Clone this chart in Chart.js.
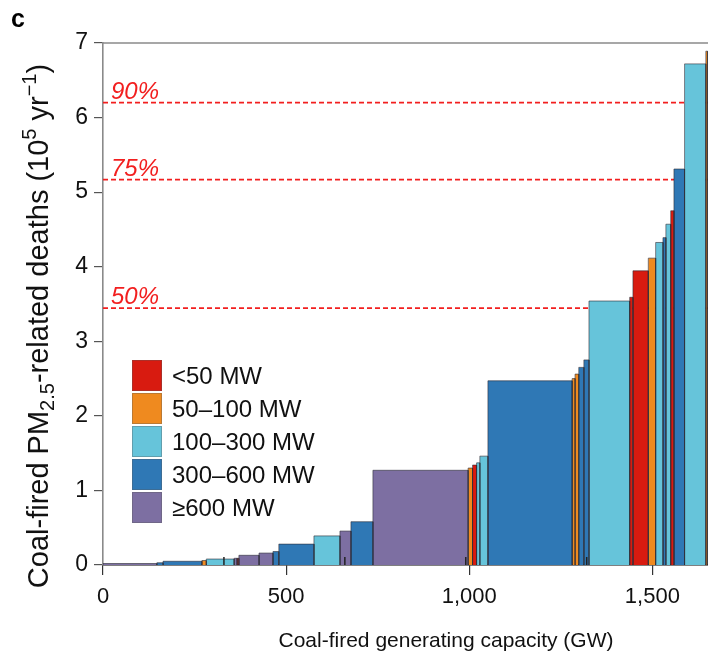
<!DOCTYPE html>
<html><head><meta charset="utf-8">
<script src="https://cdn.jsdelivr.net/npm/chart.js@4/dist/chart.umd.min.js"></script>
<style>
html,body{margin:0;padding:0;background:#fff;overflow:hidden}
#wrap{position:relative;width:708px;height:660px}
#legend{position:absolute;left:132px;top:359px;font-family:'Liberation Sans',Arial,sans-serif;font-size:24px;color:#111}
.item{display:flex;align-items:center;height:33px}
.sw{width:30px;height:31px;margin-right:10px;box-sizing:border-box;border:1px solid rgba(90,90,90,0.35)}
</style></head>
<body><div id="wrap"><canvas id="c" width="708" height="660"></canvas><div id="legend"></div></div>
<script>
// ---- data ----
const sizeClasses = ['<50 MW', '50–100 MW', '100–300 MW', '300–600 MW', '≥600 MW'];
const classColors = ['#d81b10', '#ef8a1f', '#66c4da', '#2f78b5', '#7d6fa2'];
// capacity (GW) of each group, in plotted order
const capacityGW = [147, 17, 106, 12, 76, 8, 5, 55, 38, 16, 96, 71, 30, 60, 260, 12, 11, 9, 22, 230, 8, 10, 14, 14, 111, 9, 42, 20, 20, 8, 13, 9, 29, 58, 5];
// cumulative PM2.5-related deaths (10^5 per year)
const cumulativeDeaths = [0.02, 0.03, 0.05, 0.06, 0.08, 0.09, 0.09, 0.13, 0.16, 0.18, 0.28, 0.39, 0.455, 0.58, 1.27, 1.30, 1.34, 1.37, 1.46, 2.47, 2.50, 2.56, 2.65, 2.75, 3.54, 3.59, 3.945, 4.115, 4.325, 4.39, 4.57, 4.75, 5.31, 6.72, 6.89];
// size class index of each group
const sizeClassIndex = [4, 3, 3, 1, 2, 4, 0, 4, 4, 3, 3, 2, 4, 3, 4, 1, 0, 2, 2, 3, 1, 1, 3, 3, 2, 0, 0, 1, 2, 3, 2, 0, 3, 2, 1];
const shareLevels = [0.5, 0.75, 0.9];
const shareLabels = ['50%', '75%', '90%'];
const capacityMarks = [0.2, 0.4, 0.6, 0.8];
const xTickValues = [0, 500, 1000, 1500];
const yTickValues = [0, 1, 2, 3, 4, 5, 6, 7];

// ---- build datasets ----
const FONT = "'Liberation Sans', Arial, Helvetica, sans-serif";
const totalDeaths = cumulativeDeaths[cumulativeDeaths.length - 1];
const totalCapacity = capacityGW.reduce((a, b) => a + b, 0);
const datasets = [];
let start = 0;
capacityGW.forEach((w, i) => {
  const end = start + w, h = cumulativeDeaths[i];
  datasets.push({
    type: 'line',
    data: [{x: start, y: 0}, {x: start, y: h}, {x: end, y: h}, {x: end, y: 0}],
    backgroundColor: classColors[sizeClassIndex[i]],
    borderColor: 'rgba(45,45,55,0.6)',
    borderWidth: 1,
    fill: 'origin',
    pointRadius: 0,
    tension: 0,
    order: 0
  });
  start = end;
});
shareLevels.forEach(f => {
  datasets.push({
    type: 'line',
    data: [{x: 0, y: f * totalDeaths}, {x: 1700, y: f * totalDeaths}],
    borderColor: '#f21f1f',
    borderWidth: 1.6,
    borderDash: [5, 3],
    fill: false,
    pointRadius: 0,
    order: 5
  });
});

// ---- legend (HTML) ----
const lg = document.getElementById('legend');
sizeClasses.forEach((s, i) => {
  const d = document.createElement('div'); d.className = 'item';
  const sw = document.createElement('div'); sw.className = 'sw'; sw.style.background = classColors[i];
  const t = document.createElement('span'); t.textContent = s;
  d.appendChild(sw); d.appendChild(t); lg.appendChild(d);
});

// ---- plugins ----
const decor = {
  id: 'decor',
  afterDatasetsDraw(chart) {
    const {ctx, chartArea: ca, scales: {x, y}} = chart;
    ctx.save();
    // top frame line
    ctx.strokeStyle = '#8a8a8a'; ctx.lineWidth = 1.5;
    ctx.beginPath(); ctx.moveTo(ca.left, ca.top); ctx.lineTo(ca.right, ca.top); ctx.stroke();
    // capacity quintile marks
    ctx.strokeStyle = '#222'; ctx.lineWidth = 1.5;
    capacityMarks.forEach(f => {
      const px = x.getPixelForValue(f * totalCapacity);
      ctx.beginPath(); ctx.moveTo(px, ca.bottom); ctx.lineTo(px, ca.bottom - 8); ctx.stroke();
    });
    // share labels
    ctx.fillStyle = '#f21f1f';
    ctx.font = 'italic 24px ' + FONT;
    ctx.textAlign = 'left'; ctx.textBaseline = 'alphabetic';
    shareLevels.forEach((f, i) => {
      ctx.fillText(shareLabels[i], x.getPixelForValue(0) + 8, y.getPixelForValue(f * totalDeaths) - 4);
    });
    ctx.restore();
  },
  afterDraw(chart) {
    const {ctx} = chart;
    ctx.save();
    // panel letter
    ctx.fillStyle = '#000'; ctx.font = 'bold 25px ' + FONT;
    ctx.textAlign = 'left'; ctx.textBaseline = 'alphabetic';
    ctx.fillText('c', 11, 27);
    // x title
    ctx.fillStyle = '#111'; ctx.font = '21px ' + FONT; ctx.textAlign = 'center';
    ctx.fillText('Coal-fired generating capacity (GW)', 446, 647);
    // y title with sub/superscripts
    const segs = [
      {t: 'Coal-fired PM'}, {t: '2.5', k: 'sub'}, {t: '-related deaths (10'},
      {t: '5', k: 'sup'}, {t: ' yr'}, {t: '−1', k: 'sup'}, {t: ')'}
    ];
    const fs = 29, ss = 20;
    let total = 0;
    segs.forEach(s => { ctx.font = (s.k ? ss : fs) + 'px ' + FONT; s.w = ctx.measureText(s.t).width; total += s.w; });
    ctx.translate(48, 326);
    ctx.rotate(-Math.PI / 2);
    ctx.textAlign = 'left';
    let cx = -total / 2;
    segs.forEach(s => {
      ctx.font = (s.k ? ss : fs) + 'px ' + FONT;
      const dy = s.k === 'sub' ? 6 : s.k === 'sup' ? -12 : 0;
      ctx.fillText(s.t, cx, dy);
      cx += s.w;
    });
    ctx.restore();
  }
};

new Chart(document.getElementById('c'), {
  type: 'line',
  data: {datasets},
  options: {
    responsive: false,
    animation: false,
    events: [],
    layout: {padding: {top: 43, left: 0, right: 0, bottom: 0}},
    plugins: {legend: {display: false}, tooltip: {enabled: false}},
    scales: {
      x: {
        type: 'linear', min: 0, max: 1652,
        afterBuildTicks: s => { s.ticks = xTickValues.map(v => ({value: v})); },
        afterFit: s => { s.height = 95; },
        grid: {display: true, drawOnChartArea: false, drawTicks: true, tickLength: 10, color: '#333', lineWidth: 1.2},
        border: {display: true, color: '#000', width: 1.6},
        ticks: {font: {family: FONT, size: 22}, color: '#111', padding: 9,
          callback: v => v.toLocaleString('en-US')}
      },
      y: {
        type: 'linear', min: 0, max: 7,
        afterBuildTicks: s => { s.ticks = yTickValues.map(v => ({value: v})); },
        afterFit: s => { s.width = 103; },
        grid: {display: true, drawOnChartArea: false, drawTicks: true, tickLength: 9, color: '#555', lineWidth: 1.2},
        border: {display: true, color: '#8a8a8a', width: 1.6},
        ticks: {font: {family: FONT, size: 23}, color: '#111', padding: 6}
      }
    }
  },
  plugins: [decor]
});
</script>
</body></html>
